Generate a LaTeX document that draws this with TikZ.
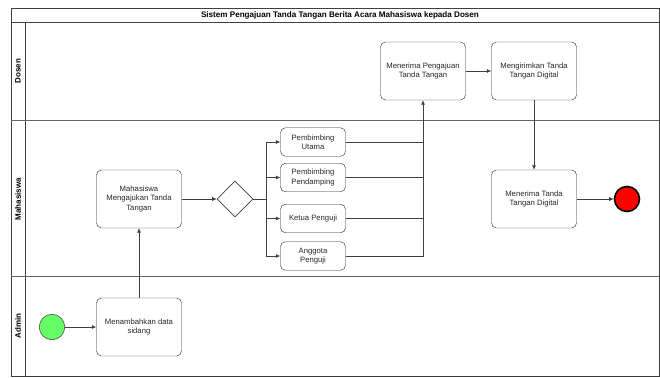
\documentclass[tikz,border=0pt]{standalone}
\usepackage{fontspec}
\setmainfont{Liberation Sans}
\usetikzlibrary{arrows.meta,shapes.geometric}
\begin{document}
\begin{tikzpicture}[x=1pt,y=-1pt,
  act/.style={draw=black!85,rounded corners=5pt,minimum width=85pt,minimum height=58pt,align=center,inner sep=1pt,font=\fontsize{7.7}{9.4}\selectfont,text=black!85},
  small/.style={act,minimum width=65pt,minimum height=28.5pt},
  arr/.style={draw=black!75,line width=0.6pt,-{Latex[length=4.5pt,width=4pt]}},
  ln/.style={draw=black!75,line width=0.6pt},
  lane/.style={draw=black!60,line width=0.9pt},
  lanelabel/.style={rotate=90,font=\bfseries\fontsize{8}{9}\selectfont}]
\useasboundingbox (0,0) rectangle (660,377);
% frame
\draw[black!75,line width=0.8pt] (11,8) rectangle (659,376);
\draw[black!75,line width=0.8pt] (11,22) -- (659,22);
\draw[black!75,line width=0.8pt] (25,22) -- (25,376);
\draw[lane] (11,120) -- (659,120);
\draw[lane] (11,276) -- (659,276);
\node[font=\bfseries\fontsize{8.1}{9}\selectfont] (title) at (340,15) {Sistem Pengajuan Tanda Tangan Berita Acara Mahasiswa kepada Dosen};
\node[lanelabel] (ldosen) at (18,71) {Dosen};
\node[lanelabel] (lmhs) at (18,199) {Mahasiswa};
\node[lanelabel] (ladmin) at (18,326) {Admin};
% nodes
\node[circle,draw=black!70,fill={rgb,255:red,102;green,255;blue,102},minimum size=25.5pt,inner sep=0pt,line width=0.6pt] (start) at (52,327) {};
\node[act] (tambah) at (139,327) {Menambahkan data\\sidang};
\node[act] (ajukan) at (139,199) {Mahasiswa\\Mengajukan Tanda\\Tangan};
\node[diamond,draw=black!75,line width=0.6pt,minimum width=36pt,minimum height=36pt,inner sep=0pt,aspect=1] (dia) at (235,199) {};
\node[small] (utama) at (313,142) {Pembimbing\\Utama};
\node[small] (pendamping) at (313,177.5) {Pembimbing\\Pendamping};
\node[small] (ketua) at (313,218.5) {Ketua Penguji};
\node[small] (anggota) at (313,256) {Anggota\\Penguji};
\node[act] (terimaP) at (423,71) {Menerima Pengajuan\\Tanda Tangan};
\node[act] (kirim) at (534,71) {Mengirimkan Tanda\\Tangan Digital};
\node[act] (terimaT) at (534,199) {Menerima Tanda\\Tangan Digital};
\node[circle,draw=black,fill={rgb,255:red,255;green,0;blue,0},minimum size=25pt,inner sep=0pt,line width=1.6pt] (end) at (627,199) {};
% connectors
\draw[arr] (start) -- (tambah);
\draw[arr] (tambah) -- (ajukan);
\draw[arr] (ajukan) -- (dia);
\coordinate (split) at (266.5,199);
\draw[ln] (dia.east) -- (split);
\draw[arr] (split) |- (utama.west);
\draw[arr] (split) |- (pendamping.west);
\draw[arr] (split) |- (ketua.west);
\draw[arr] (split) |- (anggota.west);
\draw[ln] (utama.east) -- (utama.east -| terimaP.south);
\draw[ln] (pendamping.east) -- (pendamping.east -| terimaP.south);
\draw[ln] (ketua.east) -- (ketua.east -| terimaP.south);
\draw[arr] (anggota.east) -| (terimaP.south);
\draw[arr] (terimaP) -- (kirim);
\draw[arr] (kirim) -- (terimaT);
\draw[arr] (terimaT) -- (end);
\end{tikzpicture}
\end{document}
